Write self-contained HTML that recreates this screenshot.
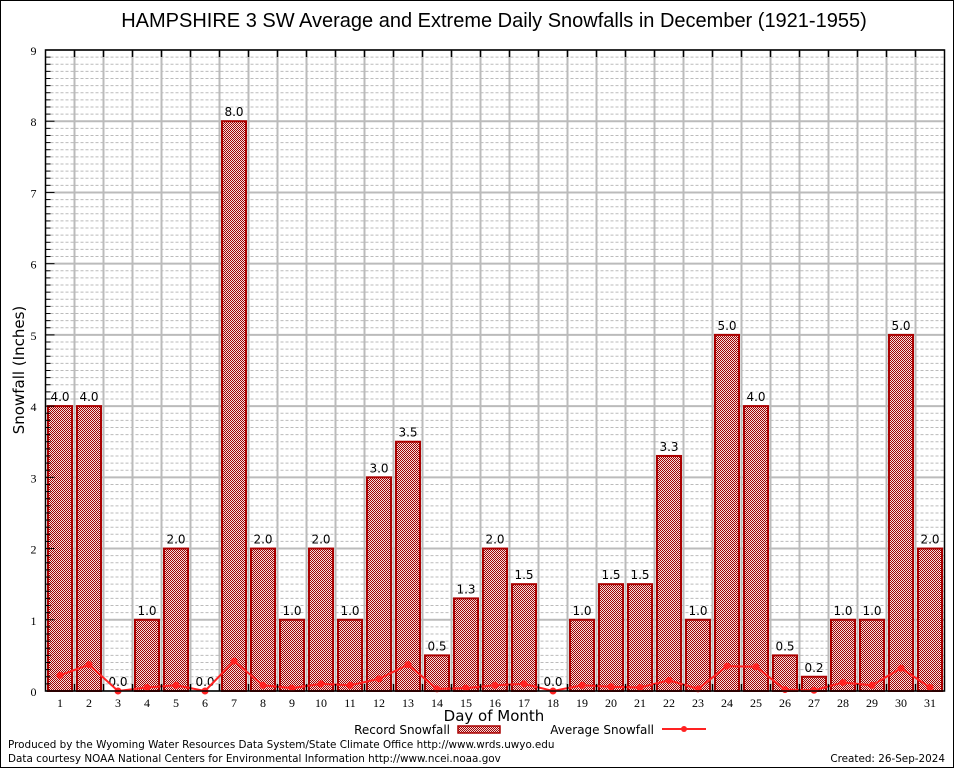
<!DOCTYPE html>
<html><head><meta charset="utf-8"><style>
body{margin:0;background:#fff}
svg{display:block;font-family:"DejaVu Sans","Liberation Sans",sans-serif}
</style></head><body>
<svg id="chart" width="954" height="768" viewBox="0 0 954 768" xmlns="http://www.w3.org/2000/svg">
<defs>
<pattern id="chk" width="2" height="2" patternUnits="userSpaceOnUse">
<rect width="2" height="2" fill="#f4dede"/><rect width="1" height="1" fill="#a00000"/><rect x="1" y="1" width="1" height="1" fill="#a00000"/>
</pattern>
</defs>
<rect x="0.5" y="0.5" width="953" height="767" fill="#fff" stroke="#000"/>
<text x="494" y="27" font-size="20" text-anchor="middle" font-family="Liberation Sans, sans-serif">HAMPSHIRE 3 SW Average and Extreme Daily Snowfalls in December (1921-1955)</text>
<g id="grid"></g>
<g id="bars"></g>
<g id="avg"></g>
<g id="axes"></g>
<text transform="translate(24,370) rotate(-90)" font-size="15" text-anchor="middle">Snowfall (Inches)</text>
<text x="494" y="721" font-size="15" text-anchor="middle">Day of Month</text>
<g>
<text x="450" y="734" font-size="12" text-anchor="end">Record Snowfall</text>
<rect x="458" y="726" width="42" height="7" fill="url(#chk)" stroke="#aa0000" stroke-width="1.5"/>
<text x="654" y="734" font-size="12" text-anchor="end">Average Snowfall</text>
<line x1="662" y1="729" x2="706" y2="729" stroke="#ff2222" stroke-width="2"/>
<circle cx="684" cy="729" r="3" fill="#ff2222"/>
</g>
<text x="8" y="748" font-size="10.4">Produced by the Wyoming Water Resources Data System/State Climate Office http://www.wrds.uwyo.edu</text>
<text x="8" y="762" font-size="10.4">Data courtesy NOAA National Centers for Environmental Information http://www.ncei.noaa.gov</text>
<text x="945" y="762" font-size="10.4" text-anchor="end">Created:  26-Sep-2024</text>
</svg>
<script>
const days = [1,2,3,4,5,6,7,8,9,10,11,12,13,14,15,16,17,18,19,20,21,22,23,24,25,26,27,28,29,30,31];
const recordSnow = [4.0,4.0,0.0,1.0,2.0,0.0,8.0,2.0,1.0,2.0,1.0,3.0,3.5,0.5,1.3,2.0,1.5,0.0,1.0,1.5,1.5,3.3,1.0,5.0,4.0,0.5,0.2,1.0,1.0,5.0,2.0];
const avgSnow = [0.22,0.37,0.0,0.05,0.08,0.0,0.42,0.08,0.04,0.1,0.08,0.17,0.37,0.03,0.04,0.08,0.1,0.0,0.08,0.06,0.05,0.15,0.03,0.35,0.34,0.02,0.01,0.12,0.08,0.32,0.05];
const yTicks = [0,1,2,3,4,5,6,7,8,9];
const NS="http://www.w3.org/2000/svg";
const L=45.5,R=944.5,T=50,B=691,yMax=9;
const cw=(R-L)/days.length;
const xs=d=>L+(d-0.5)*cw;
const ys=v=>B-(v/yMax)*(B-T);
function mk(tag,attrs,parent){const e=document.createElementNS(NS,tag);for(const k in attrs)e.setAttribute(k,attrs[k]);parent.appendChild(e);return e;}
const grid=document.getElementById('grid'),bars=document.getElementById('bars'),avg=document.getElementById('avg'),axes=document.getElementById('axes');
mk('rect',{x:L,y:T,width:R-L,height:B-T,fill:'#fff'},grid);
for(let i=1;i<yMax*10;i++){if(i%10===0)continue;const y=ys(i/10);
 mk('line',{x1:L,x2:R,y1:y,y2:y,stroke:'#bbb','stroke-width':1,'stroke-dasharray':'3,2'},grid);
 mk('line',{x1:L,x2:L+5,y1:y,y2:y,stroke:'#000'},axes);}
yTicks.forEach(v=>{const y=ys(v);
 const g=mk('line',{x1:L,x2:R,y1:y,y2:y,stroke:'#bbb','stroke-width':2},grid);
 
 
 mk('line',{x1:L,x2:L+9,y1:y,y2:y,stroke:'#000'},axes);
 const t=mk('text',{x:L-9,y:y+5,'font-size':12,'text-anchor':'end','font-family':'Liberation Serif, serif'},axes);t.textContent=v;
 
 });
for(let i=1;i<days.length;i++){const x=L+i*cw;
 mk('line',{x1:x,x2:x,y1:T,y2:B,stroke:'#bbb','stroke-width':2},grid);
 mk('line',{x1:x,x2:x,y1:T,y2:T+7,stroke:'#000','stroke-width':1.5},axes);
 mk('line',{x1:x,x2:x,y1:B,y2:B-7,stroke:'#000','stroke-width':1.5},axes);}
days.forEach((d,i)=>{const v=recordSnow[i],x=xs(d),w=24;
 if(v>0){const r=mk('rect',{x:x-w/2,y:ys(v),width:w,height:B-ys(v),fill:'url(#chk)',stroke:'#aa0000','stroke-width':2},bars);
  
  }
 const t=mk('text',{x:x,y:ys(v)-5,'font-size':12,'text-anchor':'middle'},bars);t.textContent=v.toFixed(1);
 
 
 const tl=mk('text',{x:x,y:B+16,'font-size':12,'text-anchor':'middle','font-family':'Liberation Serif, serif'},axes);tl.textContent=d;
 
 });
const pl=mk('polyline',{points:days.map((d,i)=>xs(d)+','+ys(avgSnow[i])).join(' '),fill:'none',stroke:'#ff2222','stroke-width':2},avg);


days.forEach((d,i)=>{const c=mk('circle',{cx:xs(d),cy:ys(avgSnow[i]),r:3.5,fill:'#ff2222'},avg);
 
 });
const fr=mk('rect',{x:L,y:T,width:R-L,height:B-T,fill:'none',stroke:'#000','stroke-width':1.5},axes);


</script>
</body></html>
